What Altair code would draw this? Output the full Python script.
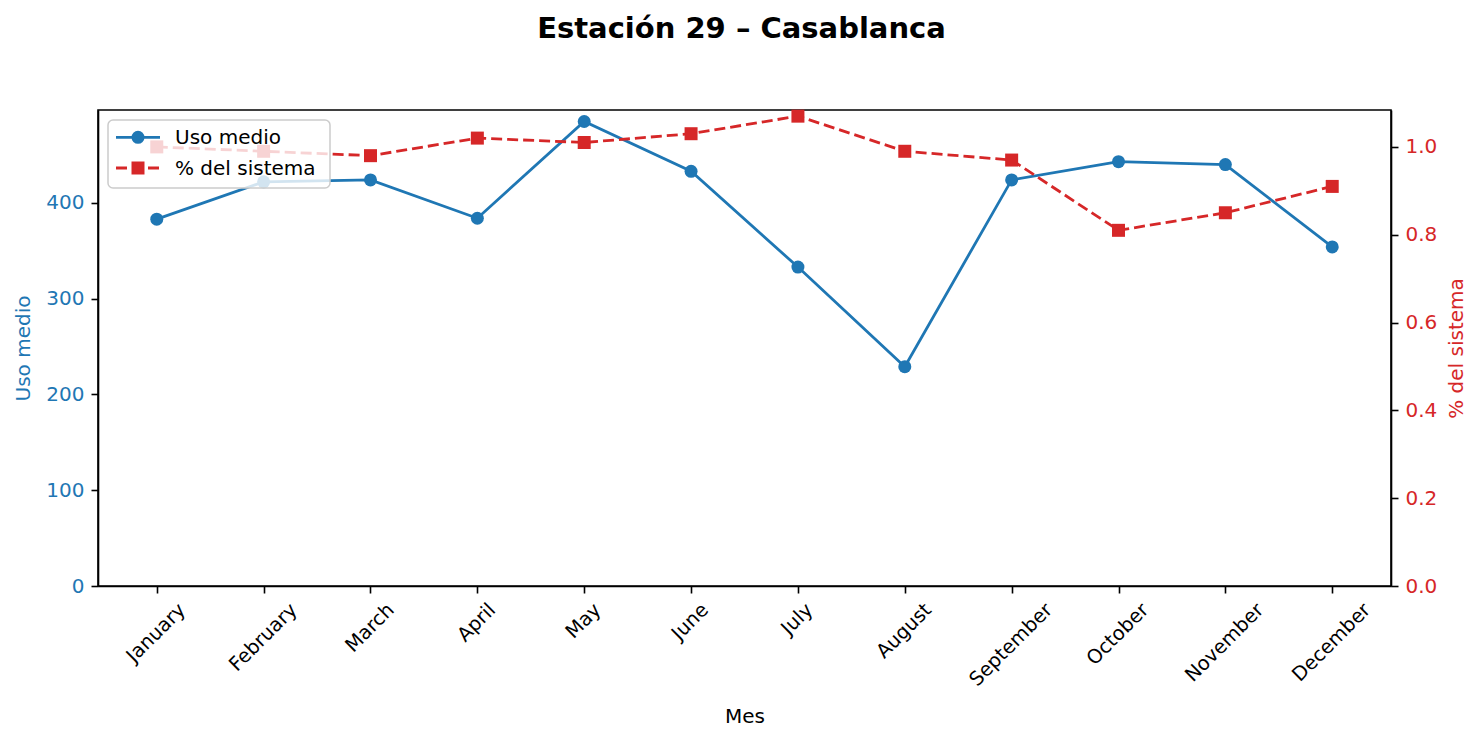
import altair as alt
import pandas as pd

# ---- data ----
months = ["January", "February", "March", "April", "May", "June", "July",
          "August", "September", "October", "November", "December"]
uso_medio = [383, 422, 424, 384, 485, 433, 333, 229, 424, 443, 440, 354]
pct_sistema = [1.00, 0.99, 0.98, 1.02, 1.01, 1.03, 1.07, 0.99, 0.97, 0.81, 0.85, 0.91]
left_ticks = [0, 100, 200, 300, 400]
right_ticks = [0.0, 0.2, 0.4, 0.6, 0.8, 1.0]
legend_labels = ["Uso medio", "% del sistema"]
title_text = "Estación 29 – Casablanca"

BLUE = "#1f77b4"
RED = "#d62728"
FONT = "DejaVu Sans"
W, H = 1293, 476
XFS = 19.5

df = pd.DataFrame({"Mes": months, "uso": uso_medio, "pct": pct_sistema})

# approximate DejaVu Sans advance widths (em) for centring rotated labels like matplotlib
CW = {"J": .295, "a": .613, "n": .634, "u": .634, "r": .411, "y": .592, "F": .575,
      "e": .615, "b": .635, "M": .863, "c": .550, "h": .634, "A": .684, "p": .635,
      "i": .278, "l": .278, "t": .392, "g": .635, "S": .635, "m": .974, "O": .787,
      "o": .612, "N": .748, "v": .592, "D": .770, "s": .521}
offsets = [round(0.354 * (sum(CW[c] for c in m) * XFS - 1.1 * XFS), 1) for m in months]
off_expr = ("[" + ",".join(str(o) for o in offsets) + "][indexof(["
            + ",".join("'" + m + "'" for m in months) + "], datum.label)]")

x_enc = alt.X(
    "Mes:N", sort=months,
    scale=alt.Scale(type="point", padding=0.55),
    axis=alt.Axis(title="Mes", labelAngle=315, labelAlign="right", labelBaseline="top",
                  labelFontSize=XFS, labelOffset=alt.ExprRef(off_expr), labelPadding=7,
                  labelOverlap=False, titlePadding=17, titleColor="black"),
)

blue = alt.Chart(df).mark_line(
    color=BLUE, strokeWidth=2.8,
    point=alt.OverlayMarkDef(filled=True, color=BLUE, size=169, shape="circle", opacity=1),
).encode(
    x=x_enc,
    y=alt.Y("uso:Q", scale=alt.Scale(domain=[0, 497], nice=False),
            axis=alt.Axis(orient="left", title="Uso medio", values=left_ticks,
                          labelColor=BLUE, titleColor=BLUE, titlePadding=12)),
)

red = alt.Chart(df).mark_line(
    color=RED, strokeWidth=2.8, strokeDash=[11, 5],
    point=alt.OverlayMarkDef(filled=True, color=RED, size=169, shape="square", opacity=1),
).encode(
    x=x_enc,
    y=alt.Y("pct:Q", scale=alt.Scale(domain=[0, 1.084], nice=False),
            axis=alt.Axis(orient="right", title="% del sistema", values=right_ticks,
                          format=".1f", labelColor=RED, titleColor=RED,
                          titleAngle=270, titleBaseline="top", titlePadding=10)),
)

one = alt.Data(values=[{"k": 1}])
leg_box = alt.Chart(one).mark_rect(
    fill="white", fillOpacity=0.8, stroke="#cccccc", strokeWidth=1.5, cornerRadius=5
).encode(x=alt.value(10), x2=alt.value(232), y=alt.value(10), y2=alt.value(78))
leg_rule1 = alt.Chart(one).mark_rule(color=BLUE, strokeWidth=2.8).encode(
    x=alt.value(18), x2=alt.value(62), y=alt.value(27.3))
leg_pt1 = alt.Chart(one).mark_point(filled=True, shape="circle", size=169, color=BLUE, opacity=1).encode(
    x=alt.value(40), y=alt.value(27.3))
leg_txt1 = alt.Chart(one).mark_text(align="left", baseline="middle", fontSize=20, font=FONT, color="black").encode(
    x=alt.value(77), y=alt.value(28), text=alt.value(legend_labels[0]))
leg_rule2 = alt.Chart(one).mark_rule(color=RED, strokeWidth=2.8, strokeDash=[11, 5]).encode(
    x=alt.value(18), x2=alt.value(62), y=alt.value(58))
leg_pt2 = alt.Chart(one).mark_point(filled=True, shape="square", size=169, color=RED, opacity=1).encode(
    x=alt.value(40), y=alt.value(58))
leg_txt2 = alt.Chart(one).mark_text(align="left", baseline="middle", fontSize=20, font=FONT, color="black").encode(
    x=alt.value(77), y=alt.value(59), text=alt.value(legend_labels[1]))

chart = alt.layer(
    blue, red, leg_box, leg_rule1, leg_pt1, leg_txt1, leg_rule2, leg_pt2, leg_txt2
).resolve_scale(y="independent").properties(
    width=W, height=H,
    autosize=alt.AutoSizeParams(type="none"),
    padding={"left": 98, "top": 110, "right": 92, "bottom": 154},
    title=alt.TitleParams(text=title_text, fontSize=29, font=FONT, fontWeight="bold",
                          anchor="middle", baseline="alphabetic", offset=43, dx=-3,
                          color="black"),
).configure_view(
    stroke="black", strokeWidth=1.6
).configure_axis(
    grid=False, domainColor="black", domainWidth=1.6, tickColor="black", tickWidth=1.6,
    tickSize=7, labelFont=FONT, titleFont=FONT, labelFontSize=20, titleFontSize=20,
    titleFontWeight="normal", labelPadding=7,
)

chart.save("out.html", embed_options={"renderer": "svg", "actions": False})
